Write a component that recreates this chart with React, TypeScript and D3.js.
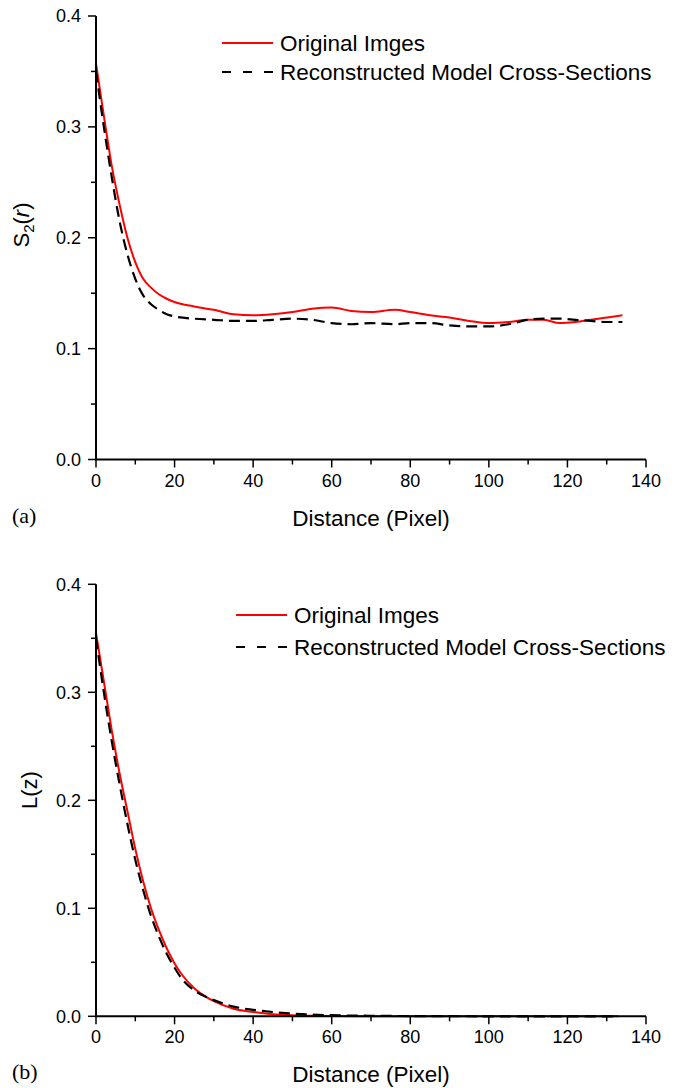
import React from "react";
import * as d3 from "d3";

const xTicks = [0, 20, 40, 60, 80, 100, 120, 140];
const yTicks = [0.0, 0.1, 0.2, 0.3, 0.4];

const s2X = [0, 2, 4, 6, 8, 10, 12, 14, 16, 18, 20, 25, 30, 35, 40, 45, 50, 55, 60, 65, 70, 76, 80, 85, 90, 95, 100, 105, 110, 114, 118, 122, 126, 130, 134];
const s2Orig = [0.357, 0.31, 0.265, 0.23, 0.2, 0.178, 0.163, 0.155, 0.149, 0.145, 0.142, 0.138, 0.135, 0.131, 0.130, 0.131, 0.133, 0.136, 0.137, 0.134, 0.133, 0.135, 0.133, 0.130, 0.128, 0.125, 0.123, 0.124, 0.126, 0.126, 0.123, 0.124, 0.126, 0.128, 0.130];
const s2Recon = [0.35, 0.30, 0.255, 0.215, 0.185, 0.163, 0.148, 0.140, 0.135, 0.131, 0.129, 0.127, 0.126, 0.125, 0.125, 0.126, 0.127, 0.126, 0.123, 0.122, 0.123, 0.122, 0.123, 0.123, 0.121, 0.120, 0.120, 0.122, 0.126, 0.127, 0.127, 0.126, 0.125, 0.124, 0.124];

const lzX = [0, 2, 4, 6, 8, 10, 12, 14, 16, 18, 20, 22, 25, 28, 30, 35, 40, 45, 50, 55, 60, 70, 80, 90, 100, 110, 120, 133];
const lzOrig = [0.355, 0.31, 0.265, 0.225, 0.19, 0.155, 0.125, 0.1, 0.08, 0.063, 0.049, 0.038, 0.026, 0.018, 0.014, 0.007, 0.004, 0.002, 0.001, 0.0005, 0.0003, 0.0001, 0, 0, 0, 0, 0, 0];
const lzRecon = [0.35, 0.30, 0.255, 0.215, 0.178, 0.145, 0.117, 0.093, 0.074, 0.058, 0.045, 0.034, 0.024, 0.018, 0.015, 0.009, 0.006, 0.004, 0.0025, 0.0015, 0.001, 0.0005, 0.0002, 0.0001, 0, 0, 0, 0];

const legendLabels = ["Original Imges", "Reconstructed Model Cross-Sections"];

type PanelProps = {
  top: number;
  bottom: number;
  xs: number[];
  orig: number[];
  recon: number[];
  yLabel: React.ReactNode;
  yLabelX: number;
  yLabelY: number;
  tag: string;
  legendX: number;
  legendY: number;
  legendGap: number;
};

const FONT = "Liberation Sans, Arial, sans-serif";

function Panel({ top, bottom, xs, orig, recon, yLabel, yLabelX, yLabelY, tag, legendX, legendY, legendGap }: PanelProps) {
  const left = 96;
  const right = 646;
  const x = d3.scaleLinear().domain([0, 140]).range([left, right]);
  const y = d3.scaleLinear().domain([0, 0.4]).range([bottom, top]);
  const line = (vals: number[]) =>
    d3
      .line<number>()
      .x((_, i) => x(xs[i]))
      .y((d) => y(d))
      .curve(d3.curveMonotoneX)(vals) || "";
  const xMinor = d3.range(10, 140, 20);
  const yMinor = d3.range(0.05, 0.4, 0.1);
  return (
    <g>
      <path d={line(orig)} fill="none" stroke="#ff0000" strokeWidth={2} />
      <path d={line(recon)} fill="none" stroke="#000" strokeWidth={2.2} strokeDasharray="11,6" />
      {/* axes */}
      <line x1={left} x2={left} y1={top} y2={bottom} stroke="#000" strokeWidth={2} />
      <line x1={left - 1} x2={right} y1={bottom} y2={bottom} stroke="#000" strokeWidth={2} />
      {yTicks.map((t) => (
        <g key={"y" + t}>
          <line x1={left - 8} x2={left} y1={y(t)} y2={y(t)} stroke="#000" strokeWidth={1.5} />
          <text x={left - 15} y={y(t)} dy="0.35em" textAnchor="end" fontSize={18} fontFamily={FONT}>
            {t.toFixed(1)}
          </text>
        </g>
      ))}
      {yMinor.map((t) => (
        <line key={"ym" + t} x1={left - 5} x2={left} y1={y(t)} y2={y(t)} stroke="#000" strokeWidth={1.5} />
      ))}
      {xTicks.map((t) => (
        <g key={"x" + t}>
          <line x1={x(t)} x2={x(t)} y1={bottom} y2={bottom + 8} stroke="#000" strokeWidth={1.5} />
          <text x={x(t)} y={bottom + 27} textAnchor="middle" fontSize={18} fontFamily={FONT}>
            {t}
          </text>
        </g>
      ))}
      {xMinor.map((t) => (
        <line key={"xm" + t} x1={x(t)} x2={x(t)} y1={bottom} y2={bottom + 5} stroke="#000" strokeWidth={1.5} />
      ))}
      <text x={371} y={bottom + 66} textAnchor="middle" fontSize={22.5} fontFamily={FONT}>
        Distance (Pixel)
      </text>
      <text x={12} y={bottom + 63} fontSize={22} fontFamily="Liberation Serif, Times New Roman, serif">
        {tag}
      </text>
      <text
        transform={`translate(${yLabelX},${yLabelY}) rotate(-90)`}
        textAnchor="middle"
        fontSize={22}
        fontFamily={FONT}
      >
        {yLabel}
      </text>
      {/* legend */}
      <line x1={legendX} x2={legendX + 51} y1={legendY} y2={legendY} stroke="#ff0000" strokeWidth={2} />
      <text x={legendX + 58} y={legendY} dy="0.35em" fontSize={22.5} fontFamily={FONT}>
        {legendLabels[0]}
      </text>
      <line
        x1={legendX}
        x2={legendX + 51}
        y1={legendY + legendGap}
        y2={legendY + legendGap}
        stroke="#000"
        strokeWidth={2.2}
        strokeDasharray="9,12"
      />
      <text x={legendX + 58} y={legendY + legendGap} dy="0.35em" fontSize={22.5} fontFamily={FONT}>
        {legendLabels[1]}
      </text>
    </g>
  );
}

export default function App() {
  return (
    <svg width={680} height={1088} style={{ position: "absolute", left: 0, top: 0, background: "#fff" }}>
      <rect width={680} height={1088} fill="#fff" />
      <Panel
        top={16}
        bottom={459.5}
        xs={s2X}
        orig={s2Orig}
        recon={s2Recon}
        yLabel={
          <>
            S
            <tspan fontSize={15} dy={5}>2</tspan>
            <tspan dy={-5}>(</tspan>
            <tspan fontStyle="italic">r</tspan>)
          </>
        }
        yLabelX={29}
        yLabelY={225}
        tag="(a)"
        legendX={222}
        legendY={43}
        legendGap={29}
      />
      <Panel
        top={584.3}
        bottom={1016.3}
        xs={lzX}
        orig={lzOrig}
        recon={lzRecon}
        yLabel="L(z)"
        yLabelX={37}
        yLabelY={790}
        tag="(b)"
        legendX={236}
        legendY={615}
        legendGap={32}
      />
    </svg>
  );
}
